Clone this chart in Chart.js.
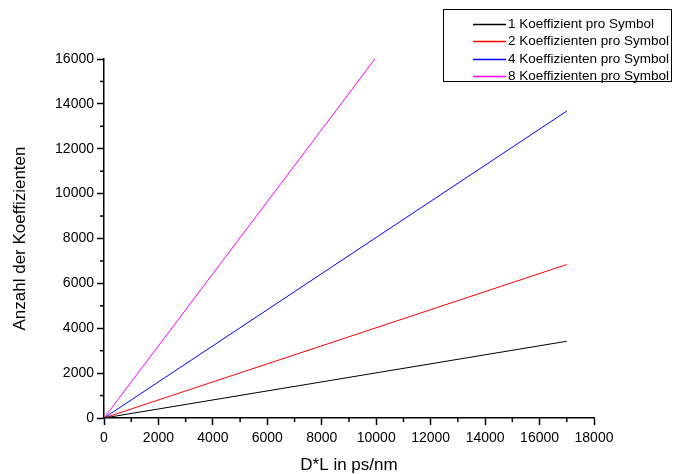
<!DOCTYPE html>
<html>
<head>
<meta charset="utf-8">
<script src="https://cdn.jsdelivr.net/npm/chart.js@4/dist/chart.umd.min.js"></script>
<style>
html,body{margin:0;padding:0;background:#fff;}
#wrap{width:681px;height:474px;position:relative;}
</style>
</head>
<body>
<div id="wrap"><canvas id="c" width="681" height="474"></canvas></div>
<script>
// Data
const seriesLabels = ['1 Koeffizient pro Symbol', '2 Koeffizienten pro Symbol', '4 Koeffizienten pro Symbol', '8 Koeffizienten pro Symbol'];
const seriesColors = ['#000000', '#ff0000', '#0000ff', '#ff00ff'];
const xStart = [0, 0, 0, 0];
const xEnd = [17000, 17000, 17000, 9950];
const yStart = [0, 0, 0, 0];
const yEnd = [3420, 6840, 13680, 16000];
const xTickLabels = ['0','2000','4000','6000','8000','10000','12000','14000','16000','18000'];
const yTickLabels = ['0','2000','4000','6000','8000','10000','12000','14000','16000'];

const datasets = seriesLabels.map((lab, i) => ({
  label: lab,
  data: [{x: xStart[i], y: yStart[i]}, {x: xEnd[i], y: yEnd[i]}],
  borderColor: seriesColors[i],
  borderWidth: 1,
  pointRadius: 0,
  fill: false,
  tension: 0
}));

const FONT = 'Arial, "Liberation Sans", sans-serif';

const minorTicks = {
  id: 'minorTicks',
  afterDraw(chart) {
    const ctx = chart.ctx;
    const xs = chart.scales.x, ys = chart.scales.y;
    ctx.save();
    ctx.strokeStyle = '#000';
    ctx.lineWidth = 1.5;
    for (let v = 1000; v < 18000; v += 2000) {
      const px = xs.getPixelForValue(v);
      ctx.beginPath(); ctx.moveTo(px, xs.top); ctx.lineTo(px, xs.top + 4); ctx.stroke();
    }
    for (let v = 1000; v < 16000; v += 2000) {
      const py = ys.getPixelForValue(v);
      ctx.beginPath(); ctx.moveTo(ys.right, py); ctx.lineTo(ys.right - 4, py); ctx.stroke();
    }
    ctx.restore();
  }
};

const boxLegend = {
  id: 'boxLegend',
  afterDraw(chart) {
    const ctx = chart.ctx;
    ctx.save();
    ctx.lineWidth = 1;
    ctx.strokeStyle = '#000000';
    ctx.strokeRect(443.5, 9.5, 228, 72);
    ctx.font = '13.5px ' + FONT;
    ctx.textBaseline = 'middle';
    ctx.textAlign = 'left';
    seriesLabels.forEach((lab, i) => {
      const y = Math.round(24 + i * 17.3) + 0.5;
      ctx.strokeStyle = seriesColors[i];
      ctx.lineWidth = 1.5;
      ctx.beginPath(); ctx.moveTo(473, y); ctx.lineTo(506, y); ctx.stroke();
      ctx.fillStyle = '#000000';
      ctx.fillText(lab, 508, y);
    });
    ctx.restore();
  }
};

new Chart(document.getElementById('c'), {
  type: 'line',
  data: { datasets },
  options: {
    responsive: false,
    animation: false,
    devicePixelRatio: 1,
    layout: { padding: { top: 59, right: 87, left: 0, bottom: 0 } },
    plugins: { legend: { display: false }, tooltip: { enabled: false } },
    elements: { line: { borderWidth: 1 } },
    scales: {
      x: {
        type: 'linear', min: 0, max: 18000,
        afterFit(s) { s.height = 56; },
        ticks: {
          stepSize: 2000, autoSkip: false, maxRotation: 0, padding: 5, color: '#000',
          font: { family: FONT, size: 14 },
          callback: (v) => { const i = Math.round(v / 2000); return (v % 2000 === 0) ? xTickLabels[i] : ''; }
        },
        grid: { drawOnChartArea: false, drawTicks: true, tickLength: 7, tickWidth: 1.5, tickColor: '#000' },
        border: { display: true, color: '#000', width: 1.5 },
        title: { display: true, text: 'D*L in ps/nm', color: '#000', font: { family: FONT, size: 17, lineHeight: 1 }, padding: { top: 0, bottom: 0 } }
      },
      y: {
        type: 'linear', min: 0, max: 16000,
        afterFit(s) { s.width = 104; },
        ticks: {
          stepSize: 2000, autoSkip: false, padding: 3, color: '#000',
          font: { family: FONT, size: 14 },
          callback: (v) => { const i = Math.round(v / 2000); return (v % 2000 === 0) ? yTickLabels[i] : ''; }
        },
        grid: { drawOnChartArea: false, drawTicks: true, tickLength: 7, tickWidth: 1.5, tickColor: '#000' },
        border: { display: true, color: '#000', width: 1.5 },
        title: { display: true, text: 'Anzahl der Koeffizienten', color: '#000', font: { family: FONT, size: 17, lineHeight: 1 }, padding: { top: 12, bottom: 0 } }
      }
    }
  },
  plugins: [minorTicks, boxLegend]
});
</script>
</body>
</html>
